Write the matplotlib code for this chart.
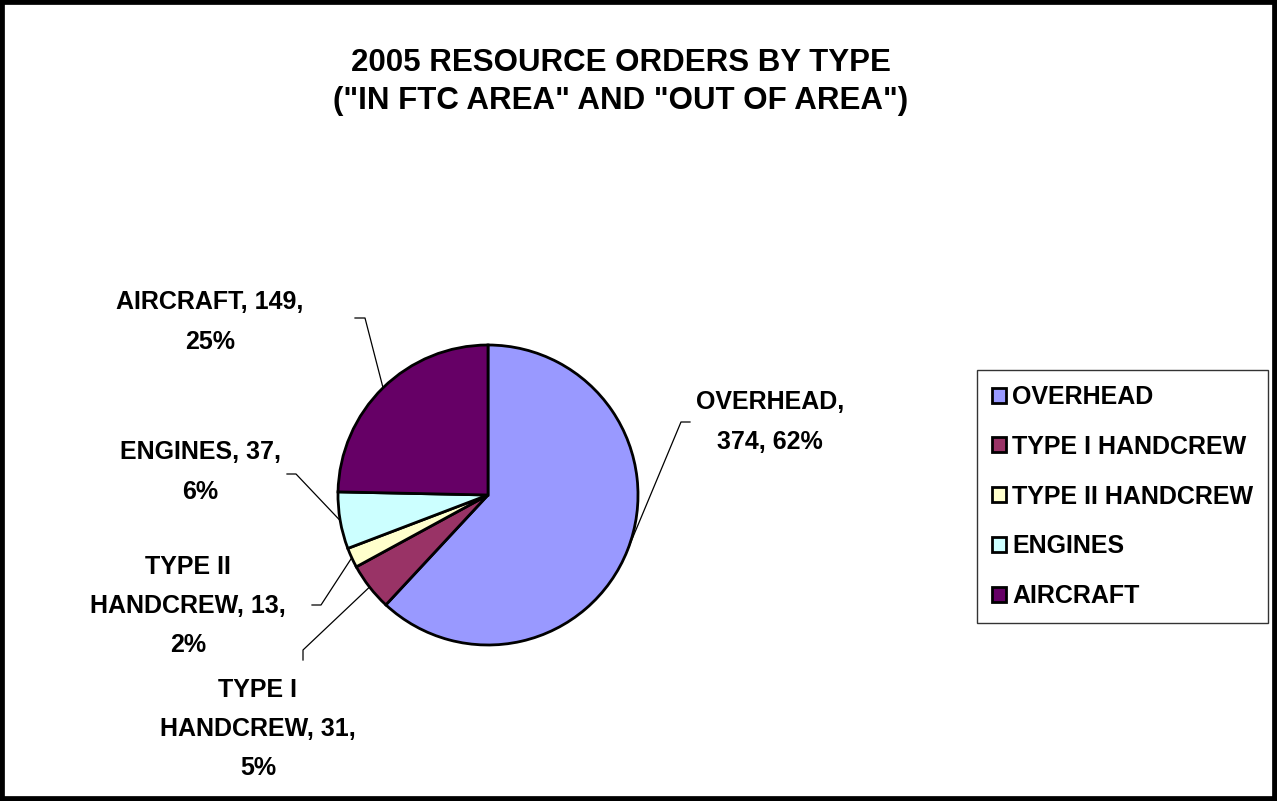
import matplotlib.pyplot as plt
from matplotlib.patches import Rectangle
import numpy as np

W, H = 1277, 801

categories = ['OVERHEAD', 'TYPE I HANDCREW', 'TYPE II HANDCREW', 'ENGINES', 'AIRCRAFT']
values = [374, 31, 13, 37, 149]
label_texts = ['OVERHEAD,\n374, 62%', 'TYPE I\nHANDCREW, 31,\n5%', 'TYPE II\nHANDCREW, 13,\n2%',
               'ENGINES, 37,\n6%', 'AIRCRAFT, 149,\n25%']
colors = ['#9999FF', '#993366', '#FFFFCC', '#CCFFFF', '#660066']

plt.rcParams['font.family'] = ['Liberation Sans', 'DejaVu Sans']
plt.rcParams['font.weight'] = 'bold'

fig = plt.figure(figsize=(W / 100, H / 100), dpi=100)
ax = fig.add_axes([0, 0, 1, 1])


def py(y):
    # pixel row -> data y
    return H - y


cx, cy, r = 488, py(495), 150
wedges, _ = ax.pie(values, colors=colors, startangle=90, counterclock=False,
                   center=(cx, cy), radius=r, frame=True,
                   wedgeprops=dict(edgecolor='black', linewidth=2))
ax.set_xlim(0, W)
ax.set_ylim(0, H)
ax.set_aspect('equal')
ax.axis('off')

# label centres and leader elbows (pixel coords)
label_pos = [(770, 422), (258, 729), (188, 606), (200, 472), (210, 322)]
elbows = [((681, 422), (690, 422)), ((303, 650), (303, 660)), ((321, 605), (312, 605)),
          ((296, 474), (287, 474)), ((365, 318), (355, 318))]
for w, txt, (lx, ly), (e1, e2) in zip(wedges, label_texts, label_pos, elbows):
    mid = np.deg2rad((w.theta1 + w.theta2) / 2)
    ex, ey = cx + r * np.cos(mid), cy + r * np.sin(mid)
    ax.plot([ex, e1[0], e2[0]], [ey, py(e1[1]), py(e2[1])], color='black', lw=0.9)
    ax.text(lx, py(ly), txt, ha='center', va='center', fontsize=18,
            fontweight='bold', linespacing=1.8)

fig.text(621 / W, 1 - 82 / H, '2005 RESOURCE ORDERS BY TYPE\n("IN FTC AREA" AND "OUT OF AREA")',
         ha='center', va='center', fontsize=22.5, fontweight='bold', linespacing=1.38)

leg = fig.legend(wedges, categories, loc='upper left',
                 bbox_to_anchor=(977 / W, 1 - 370 / H), bbox_transform=fig.transFigure,
                 borderaxespad=0, frameon=True, fancybox=False, shadow=False,
                 fontsize=18, handlelength=0.55, handleheight=0.55, handletextpad=0.25,
                 labelspacing=1.03, borderpad=0.6)
leg.get_frame().set_edgecolor('black')
leg.get_frame().set_linewidth(1)
for t in leg.get_texts():
    t.set_fontweight('bold')

fig.patches.append(Rectangle((0, 0), 1, 1, transform=fig.transFigure, fill=False,
                             edgecolor='black', linewidth=7))

fig.savefig('out.png', dpi=100)
